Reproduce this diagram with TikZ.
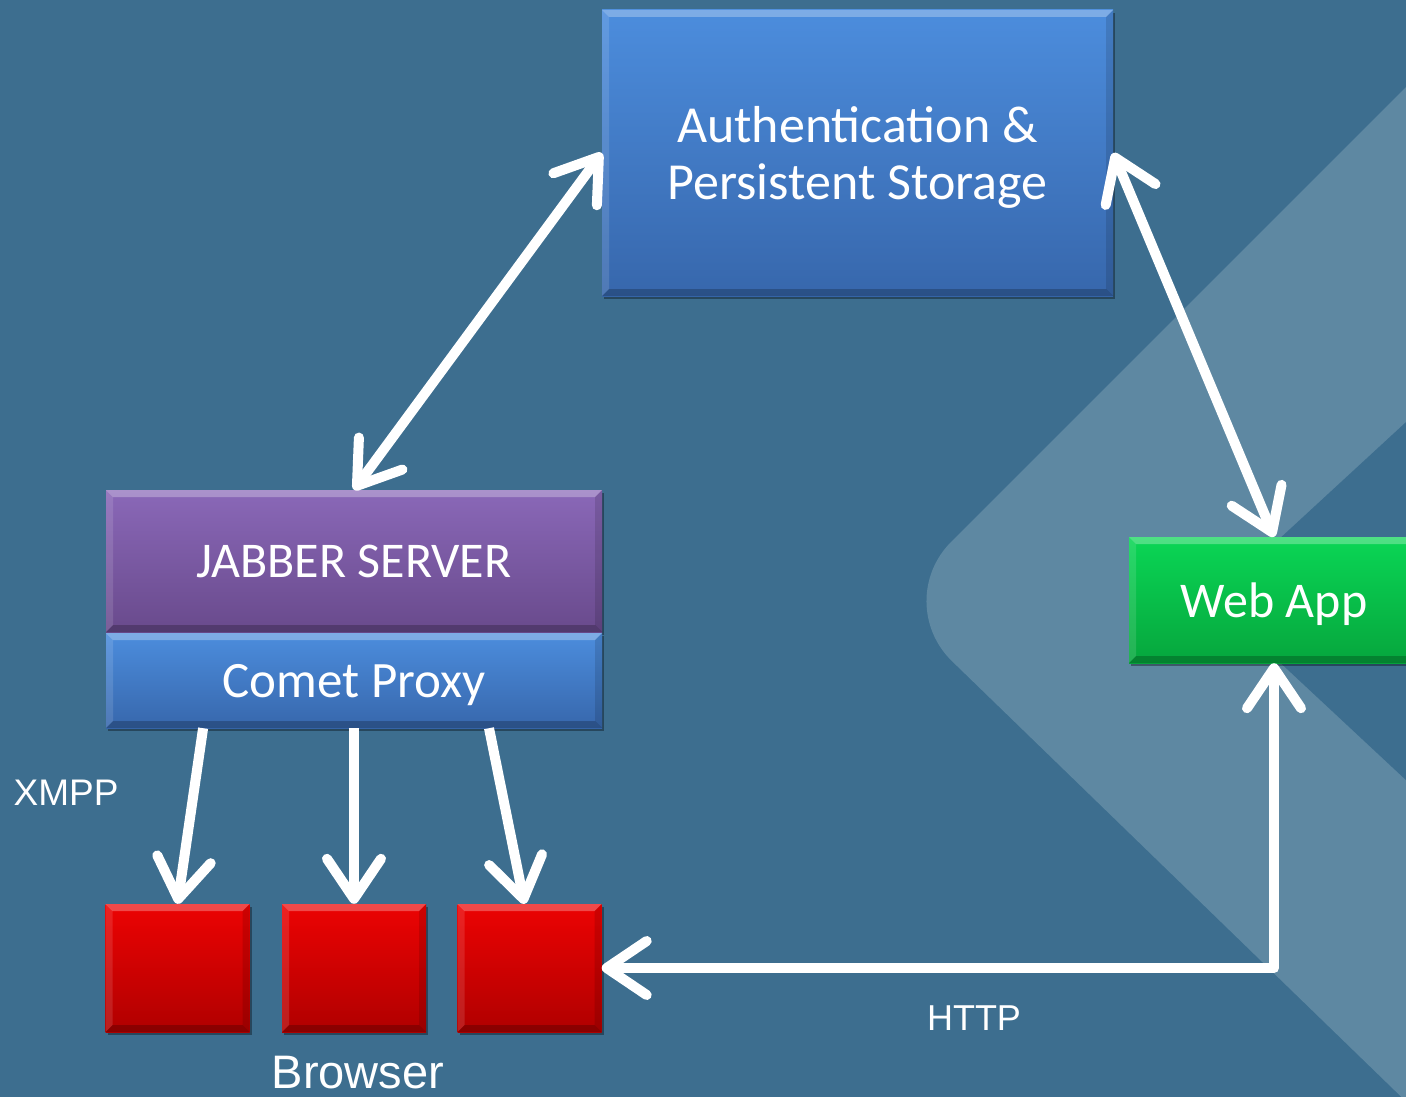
\documentclass[tikz,border=0pt]{standalone}
\usepackage{fontspec}
\setmainfont{Carlito}
\newfontfamily\arialf{Liberation Sans}
\usetikzlibrary{arrows.meta,shadows,calc}
\definecolor{bgc}{HTML}{3D6E8F}
\definecolor{chevc}{HTML}{5E88A2}
\definecolor{blueT}{HTML}{4C8DDD}
\definecolor{blueB}{HTML}{3767AC}
\definecolor{purT}{HTML}{8A68B8}
\definecolor{purB}{HTML}{694A8C}
\definecolor{grnT}{HTML}{0AD655}
\definecolor{grnB}{HTML}{06A63D}
\definecolor{redT}{HTML}{EC0303}
\definecolor{redB}{HTML}{B00000}
\tikzset{
  bevel/.style={path picture={
    \fill[white,opacity=.28] (path picture bounding box.north west) -- (path picture bounding box.north east)
      -- ([xshift=-7pt,yshift=-7pt]path picture bounding box.north east) -- ([xshift=7pt,yshift=-7pt]path picture bounding box.north west) -- cycle;
    \fill[white,opacity=.12] (path picture bounding box.north west) -- (path picture bounding box.south west)
      -- ([xshift=7pt,yshift=7pt]path picture bounding box.south west) -- ([xshift=7pt,yshift=-7pt]path picture bounding box.north west) -- cycle;
    \fill[black,opacity=.12] (path picture bounding box.north east) -- (path picture bounding box.south east)
      -- ([xshift=-7pt,yshift=7pt]path picture bounding box.south east) -- ([xshift=-7pt,yshift=-7pt]path picture bounding box.north east) -- cycle;
    \fill[black,opacity=.22] (path picture bounding box.south west) -- (path picture bounding box.south east)
      -- ([xshift=-7pt,yshift=7pt]path picture bounding box.south east) -- ([xshift=7pt,yshift=7pt]path picture bounding box.south west) -- cycle;
  }},
  box/.style={rectangle, inner sep=0pt, text=white, align=center, bevel, text depth=0pt,
    font=\fontsize{50}{58}\selectfont,
    drop shadow={shadow xshift=2pt, shadow yshift=-3pt, opacity=.35, fill=black}},
  bluebox/.style={box, top color=blueT, bottom color=blueB},
  purbox/.style={box, top color=purT, bottom color=purB},
  grnbox/.style={box, top color=grnT, bottom color=grnB},
  redbox/.style={box, top color=redT, bottom color=redB, minimum width=144pt, minimum height=128pt},
  conn/.style={draw=white, line width=10pt, line join=round,
    arrows={Straight Barb[length=40pt,width=54pt,round]-Straight Barb[length=40pt,width=54pt,round]}},
  oneway/.style={draw=white, line width=10pt, -{Straight Barb[length=40pt,width=54pt,round]}},
  lbl/.style={text=white, inner sep=0pt, font=\arialf\fontsize{37}{44}\selectfont}
}
\begin{document}
\begin{tikzpicture}[x=1pt,y=-1pt]
\useasboundingbox (0,0) rectangle (1406,1097);
\begin{scope}
\clip (0,0) rectangle (1406,1097);
\fill[bgc] (0,0) rectangle (1406,1097);
\fill[chevc, rounded corners=85pt] (1750,-257) -- (891,602) -- (1750,1435) -- cycle;
\fill[bgc] (1750,105) -- (1213,600) -- (1750,1101) -- cycle;
\end{scope}

\node[bluebox, minimum width=511pt, minimum height=286pt, font=\fontsize{52}{57}\selectfont] (auth) at (857.5,153) {Authentication \&\\Persistent Storage};
\node[purbox, minimum width=496pt, minimum height=142pt] (jabber) at (354,561) {JABBER SERVER};
\node[bluebox, minimum width=496pt, minimum height=95pt, font=\fontsize{51}{58}\selectfont] (comet) at (354,680.5) {Comet Proxy};
\node[grnbox, minimum width=290pt, minimum height=126pt] (webapp) at (1274,600) {Web App};
\node[redbox] (b1) at (177.5,968) {};
\node[redbox] (b2) at (354,968) {};
\node[redbox] (b3) at (529.5,968) {};

\node[lbl] (xmpp) at (66,793) {XMPP};
\node[lbl, font=\arialf\fontsize{36}{42}\selectfont] (http) at (974,1018) {HTTP};
\node[lbl, font=\arialf\fontsize{47}{54}\selectfont] (browser) at (358,1073) {Browser};

\draw[conn] (jabber.north) -- (auth.west);
\draw[conn] (auth.east) -- (webapp.north);
\draw[oneway] ($(comet.south west)!0.196!(comet.south east)$) -- (b1.north);
\draw[oneway] (comet.south) -- (b2.north);
\draw[oneway] ($(comet.south west)!0.772!(comet.south east)$) -- ([xshift=-5pt]b3.north);
\draw[conn] (b3.east) -| (webapp.south);
\end{tikzpicture}
\end{document}
